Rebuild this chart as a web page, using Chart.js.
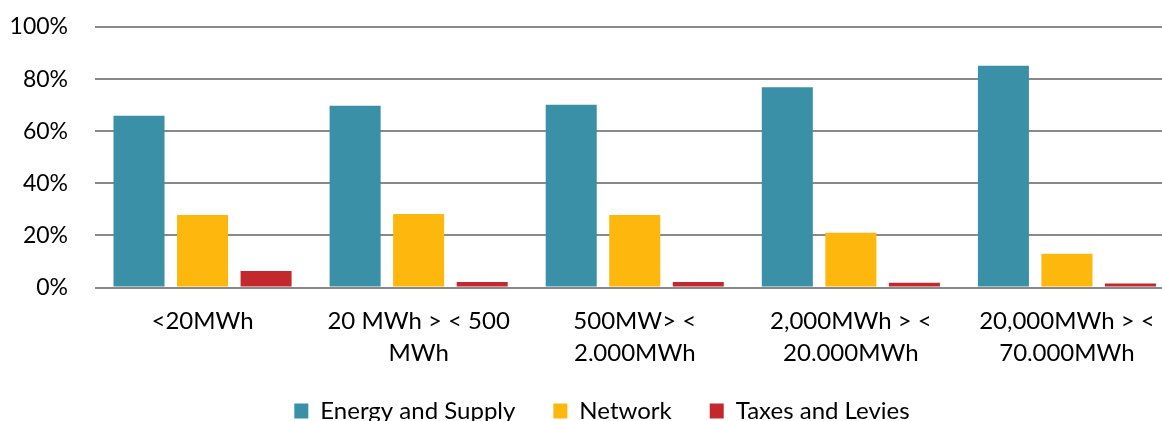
<!DOCTYPE html>
<html>
<head>
<meta charset="utf-8">
<script src="https://cdn.jsdelivr.net/npm/chart.js@4.4.1/dist/chart.umd.min.js"></script>
<style>
  html, body { margin: 0; padding: 0; background: #fff; overflow: hidden; }
  #wrap { position: relative; width: 1175px; height: 433px; }
</style>
</head>
<body>
<div id="wrap"><canvas id="costChart"></canvas></div>
<script>
// Consumption bands and cost shares (%)
const categories = [
    '<20MWh',
    ['20 MWh > < 500', 'MWh'],
    ['500MW> <', '2,000MWh'],
    ['2,000MWh > <', '20,000MWh'],
    ['20,000MWh > <', '70,000MWh']
];
const seriesNames = ['Energy and Supply', 'Network', 'Taxes and Levies'];
const energySupply = [65.9, 69.8, 70.2, 76.9, 85.1];
const network = [27.8, 28.2, 27.8, 21.0, 13.0];
const taxesLevies = [6.3, 2.1, 2.1, 1.8, 1.5];
const yTicks = [0, 20, 40, 60, 80, 100];

const colors = ['#3a90a6', '#fdb70d', '#c3292c'];
const fontFamily = 'Lato, "Open Sans", sans-serif';

// The original legend sits a little right of the canvas centre
const legendShift = {
    id: 'legendShift',
    afterLayout(chart) {
        if (chart.legend) {
            chart.legend.left += 14.5;
            chart.legend.right += 14.5;
        }
    }
};

document.addEventListener('DOMContentLoaded', function() {
    const ctx = document.getElementById('costChart');
    const datasets = [energySupply, network, taxesLevies].map(function(values, i) {
        return {
            label: seriesNames[i],
            data: values,
            backgroundColor: colors[i],
            borderWidth: 0,
            categoryPercentage: 0.882,
            barPercentage: 0.803
        };
    });

    new Chart(ctx, {
        type: 'bar',
        data: { labels: categories, datasets: datasets },
        options: {
            responsive: true,
            maintainAspectRatio: false,
            animation: false,
            layout: { padding: { top: 27, left: 0, right: 0, bottom: 0 } },
            plugins: {
                tooltip: { enabled: false },
                legend: {
                    position: 'bottom',
                    labels: {
                        boxWidth: 14,
                        boxHeight: 15,
                        padding: 38,
                        color: '#000',
                        font: { family: fontFamily, size: 24 }
                    }
                }
            },
            scales: {
                x: {
                    grid: { display: false, drawTicks: false },
                    border: { display: false },
                    afterFit: function(axis) { axis.height = 73.5; },
                    ticks: {
                        color: '#000',
                        padding: 17.5,
                        maxRotation: 0,
                        autoSkip: false,
                        font: { family: fontFamily, size: 24, lineHeight: 1.333 }
                    }
                },
                y: {
                    min: 0,
                    max: 100,
                    afterBuildTicks: function(axis) {
                        axis.ticks = yTicks.map(function(v) { return { value: v }; });
                    },
                    afterFit: function(axis) {
                        axis.width = 94.5;
                        axis.paddingTop = 0;
                        axis.paddingBottom = 0;
                    },
                    grid: { color: '#898989', lineWidth: 2, drawTicks: false },
                    border: { display: false },
                    ticks: {
                        color: '#000',
                        padding: 26.5,
                        font: { family: fontFamily, size: 23 },
                        callback: function(value) { return value + '%'; }
                    }
                }
            }
        },
        plugins: [legendShift]
    });
});
</script>
</body>
</html>
